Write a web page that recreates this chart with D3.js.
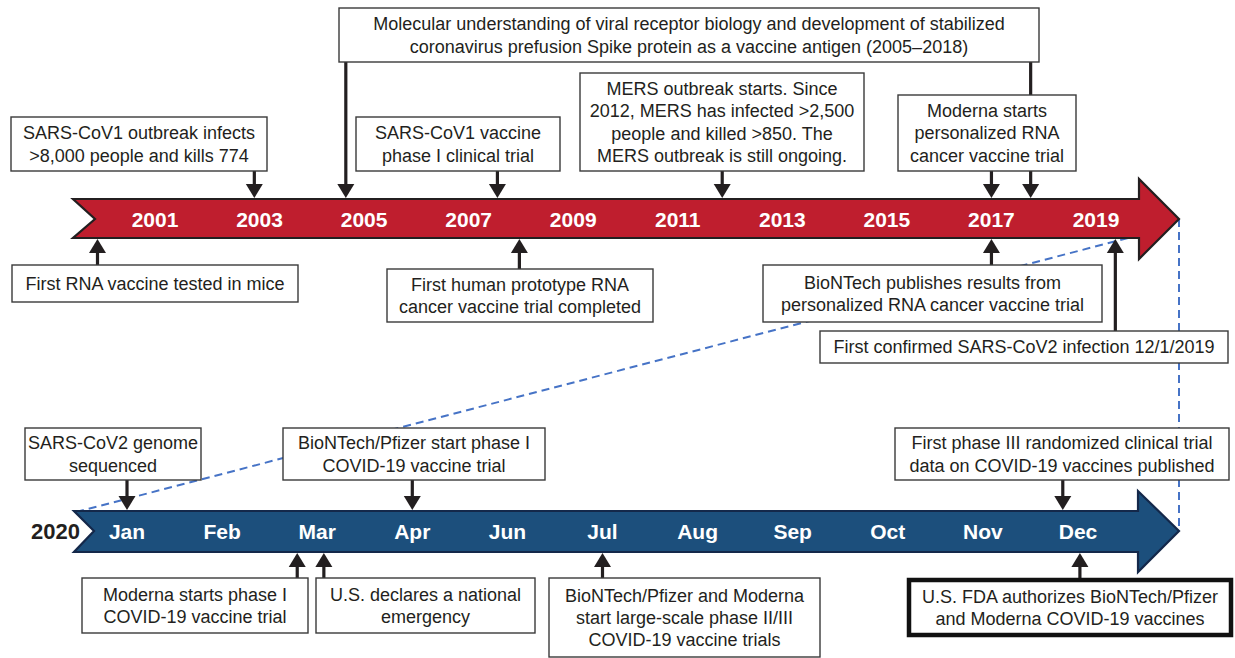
<!DOCTYPE html>
<html>
<head>
<meta charset="utf-8">
<script src="https://cdn.jsdelivr.net/npm/d3@7"></script>
<style>
  body { margin: 0; background: #fff; }
  text { font-family: "Liberation Sans", Arial, Helvetica, sans-serif; }
</style>
</head>
<body>
<script>
// ---- data ----
const yearTicks = [2001, 2003, 2005, 2007, 2009, 2011, 2013, 2015, 2017, 2019];
const monthTicks = ["Jan", "Feb", "Mar", "Apr", "Jun", "Jul", "Aug", "Sep", "Oct", "Nov", "Dec"];

// events on the 2001-2019 timeline (date in years)
const yearEventText = [
  ["SARS-CoV1 outbreak infects", ">8,000 people and kills 774"],
  ["Molecular understanding of viral receptor biology and development of stabilized",
   "coronavirus prefusion Spike protein as a vaccine antigen (2005\u20132018)"],
  ["SARS-CoV1 vaccine", "phase I clinical trial"],
  ["MERS outbreak starts. Since", "2012, MERS has infected >2,500", "people and killed >850. The", "MERS outbreak is still ongoing."],
  ["Moderna starts", "personalized RNA", "cancer vaccine trial"],
  ["First RNA vaccine tested in mice"],
  ["First human prototype RNA", "cancer vaccine trial completed"],
  ["BioNTech publishes results from", "personalized RNA cancer vaccine trial"],
  ["First confirmed SARS-CoV2 infection 12/1/2019"]
];
const yearEventDate = [[2002.9], [2004.65, 2017.75], [2007.55], [2011.85], [2017.0],
                       [1999.9], [2007.97], [2017.0], [2019.37]];
const yearEventSide = ["above", "above", "above", "above", "above", "below", "below", "below", "below"];

// events on the 2020 timeline (date as month tick index)
const monthEventText = [
  ["SARS-CoV2 genome", "sequenced"],
  ["BioNTech/Pfizer start phase I", "COVID-19 vaccine trial"],
  ["First phase III randomized clinical trial", "data on COVID-19 vaccines published"],
  ["Moderna starts phase I", "COVID-19 vaccine trial"],
  ["U.S. declares a national", "emergency"],
  ["BioNTech/Pfizer and Moderna", "start large-scale phase II/III", "COVID-19 vaccine trials"],
  ["U.S. FDA authorizes BioNTech/Pfizer", "and Moderna COVID-19 vaccines"]
];
const monthEventDate = [0, 3, 9.84, 1.79, 2.07, 5.0, 10.02];
const monthEventSide = ["above", "above", "above", "below", "below", "below", "below"];

// ---- layout (box x, y, w, h) ----
const yearBoxes = [
  [11, 117, 256, 54], [339, 8, 700, 54], [356, 117, 204, 54], [580, 73, 284, 98],
  [898, 95, 178, 76], [12, 265, 286, 37], [387, 269, 266, 53], [763, 265, 339, 57],
  [820, 331, 408, 32]
];
const monthBoxes = [
  [25, 428, 176, 52], [283, 428, 262, 52], [895, 428, 334, 52],
  [82, 578, 226, 55], [316, 578, 219, 55], [549, 578, 271, 79], [909, 580, 322, 55]
];

const width = 1235, height = 658;
const red = { top: 199, bottom: 238, mid: 219, left: 73, notch: 95, head: 1139, headTop: 179, headBot: 259, tip: 1179 };
const blue = { top: 511, bottom: 552, mid: 531, left: 74, notch: 94, head: 1138, headTop: 491, headBot: 572, tip: 1179 };

const xYear = d3.scaleLinear().domain([2001, 2019]).range([155, 1096]);
const xMonth = d3.scaleLinear().domain([0, monthTicks.length - 1]).range([127, 1078]);

const svg = d3.select("body").append("svg")
  .attr("width", width)
  .attr("height", height)
  .attr("viewBox", `0 0 ${width} ${height}`);

function arrowPoints(a) {
  return [[a.left, a.top], [a.head, a.top], [a.head, a.headTop], [a.tip, a.mid],
          [a.head, a.headBot], [a.head, a.bottom], [a.left, a.bottom], [a.notch, a.mid]];
}

// dashed zoom lines (behind everything)
const dash = svg.append("g")
  .attr("stroke", "#4673c6")
  .attr("stroke-width", 2)
  .attr("stroke-dasharray", "8,5")
  .attr("fill", "none");
dash.append("line")
  .attr("x1", 1128).attr("y1", red.bottom)
  .attr("x2", blue.left + 6).attr("y2", blue.top);
dash.append("line")
  .attr("x1", red.tip).attr("y1", red.mid)
  .attr("x2", blue.tip).attr("y2", blue.mid);

// the two timeline arrows
svg.append("polygon")
  .attr("points", arrowPoints(red).join(" "))
  .attr("fill", "#bf1e2e")
  .attr("stroke", "#231f20")
  .attr("stroke-width", 2.2);
svg.append("polygon")
  .attr("points", arrowPoints(blue).join(" "))
  .attr("fill", "#1c4f7c")
  .attr("stroke", "#14284a")
  .attr("stroke-width", 2.2);

// tick labels
svg.append("g").selectAll("text")
  .data(yearTicks)
  .join("text")
  .attr("x", d => xYear(d))
  .attr("y", red.mid)
  .attr("dy", "0.36em")
  .attr("text-anchor", "middle")
  .attr("fill", "#fff")
  .attr("font-weight", "bold")
  .attr("font-size", 21)
  .text(d => d);

svg.append("g").selectAll("text")
  .data(monthTicks)
  .join("text")
  .attr("x", (d, i) => xMonth(i))
  .attr("y", blue.mid)
  .attr("dy", "0.36em")
  .attr("text-anchor", "middle")
  .attr("fill", "#fff")
  .attr("font-weight", "bold")
  .attr("font-size", 21)
  .text(d => d);

svg.append("text")
  .attr("x", 80)
  .attr("y", blue.mid)
  .attr("dy", "0.36em")
  .attr("text-anchor", "end")
  .attr("fill", "#231f20")
  .attr("font-weight", "bold")
  .attr("font-size", 22)
  .text("2020");

// build the event list
const events = [];
yearEventText.forEach((lines, i) => {
  events.push({
    lines, box: yearBoxes[i], side: yearEventSide[i], band: red,
    xs: yearEventDate[i].map(d => xYear(d)), thick: false
  });
});
monthEventText.forEach((lines, i) => {
  events.push({
    lines, box: monthBoxes[i], side: monthEventSide[i], band: blue,
    xs: [xMonth(monthEventDate[i])], thick: i === monthEventText.length - 1
  });
});

const ah = 14, aw = 8.5;  // arrowhead height, half width

// connector lines
const conn = svg.append("g").attr("stroke", "#231f20").attr("stroke-width", 3.2);
events.forEach(e => {
  const [bx, by, bw, bh] = e.box;
  e.xs.forEach(x => {
    const y0 = e.side === "above" ? by + bh : by;
    const y1 = e.side === "above" ? e.band.top - ah : e.band.bottom + ah;
    conn.append("line").attr("x1", x).attr("x2", x).attr("y1", y0).attr("y2", y1);
  });
});

// boxes
const boxes = svg.append("g");
events.forEach(e => {
  const [bx, by, bw, bh] = e.box;
  boxes.append("rect")
    .attr("x", bx).attr("y", by)
    .attr("width", bw).attr("height", bh)
    .attr("fill", "#fff")
    .attr("stroke", e.thick ? "#111" : "#3a3a3a")
    .attr("stroke-width", e.thick ? 4.5 : 1.4);
  const lh = 22.3;
  const cy = by + bh / 2 - (e.lines.length - 1) * lh / 2;
  boxes.append("g").selectAll("text")
    .data(e.lines)
    .join("text")
    .attr("x", bx + bw / 2)
    .attr("y", (d, i) => cy + i * lh)
    .attr("dy", "0.36em")
    .attr("text-anchor", "middle")
    .attr("font-size", 18)
    .attr("fill", "#231f20")
    .text(d => d);
});

// arrowheads
const heads = svg.append("g").attr("fill", "#231f20");
events.forEach(e => {
  e.xs.forEach(x => {
    let pts;
    if (e.side === "above") {
      const t = e.band.top - 1;
      pts = [[x - aw, t - ah], [x + aw, t - ah], [x, t]];
    } else {
      const b = e.band.bottom + 1;
      pts = [[x - aw, b + ah], [x + aw, b + ah], [x, b]];
    }
    heads.append("polygon").attr("points", pts.join(" "));
  });
});
</script>
</body>
</html>
